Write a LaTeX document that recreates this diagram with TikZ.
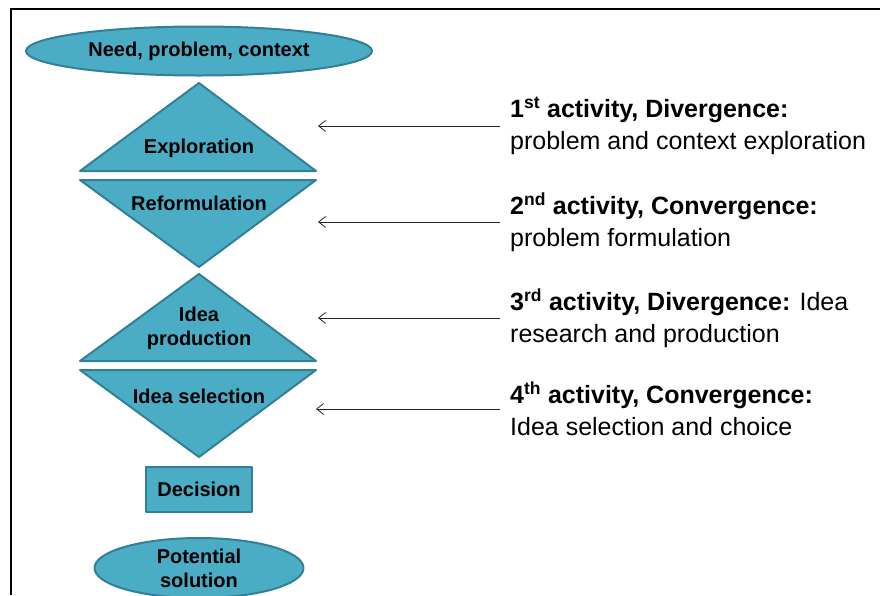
\documentclass[tikz,border=0pt]{standalone}
\usepackage{fontspec}
\setmainfont{Liberation Sans}
\usetikzlibrary{shapes.geometric,arrows.meta}
\definecolor{fondbleu}{RGB}{75,172,198}
\definecolor{bordbleu}{RGB}{49,128,150}
\tikzset{
 forme/.style={draw=bordbleu,fill=fondbleu,line width=2pt,line join=round},
 etiq/.style={font=\bfseries\fontsize{20}{24}\selectfont,align=center,inner sep=0pt},
 activ/.style={font=\fontsize{25}{32}\selectfont,align=left,anchor=west,inner xsep=10pt,inner ysep=0pt},
 fleche/.style={{Straight Barb[length=7pt,width=11pt]}-,line width=0.8pt,black!85}
}
\begin{document}
\begin{tikzpicture}[x=1pt,y=-1pt]
\useasboundingbox (0,0) rectangle (880,595);
\draw[line width=1.5pt] (880,9) -- (11,9) -- (11,595);
% les triangles
\draw[forme] (80,171) -- (199,83) -- (316,171) -- cycle;
\draw[forme] (80,180) -- (316,180) -- (199,267) -- cycle;
\draw[forme] (80,361) -- (199,274) -- (316,361) -- cycle;
\draw[forme] (80,370) -- (316,370) -- (199,457) -- cycle;
% les etiquettes
\node[forme,ellipse,minimum width=346pt,minimum height=49pt,etiq] (besoin) at (199,51) {Need, problem, context};
\node[etiq] (explo) at (199,148) {Exploration};
\node[etiq] (reform) at (199,203) {Reformulation};
\node[etiq] (prod) at (199,328) {Idea\\production};
\node[etiq] (select) at (199,396) {Idea selection};
\node[forme,rectangle,minimum width=106pt,minimum height=45pt,etiq] (decis) at (199,489) {Decision};
\node[forme,ellipse,minimum width=209pt,minimum height=60pt,etiq] (solut) at (199,568) {Potential\\solution};
% les activites
\node[activ] (act1) at (500,126) {\textbf{1\textsuperscript{st} activity, Divergence:}\\problem and context exploration};
\node[activ] (act2) at (500,222) {\textbf{2\textsuperscript{nd} activity, Convergence:}\\problem formulation};
\node[activ] (act3) at (500,318) {\textbf{3\textsuperscript{rd} activity, Divergence:} Idea\\research and production};
\node[activ] (act4) at (500,409) {\textbf{4\textsuperscript{th} activity, Convergence:}\\Idea selection and choice};
\coordinate (p1) at (318,126);
\coordinate (p2) at (318,222);
\coordinate (p3) at (318,318);
\coordinate (p4) at (316,409);
\foreach \i in {1,2,3,4}
{
\draw[fleche] (p\i) -- (act\i.west);
}
\end{tikzpicture}
\end{document}
